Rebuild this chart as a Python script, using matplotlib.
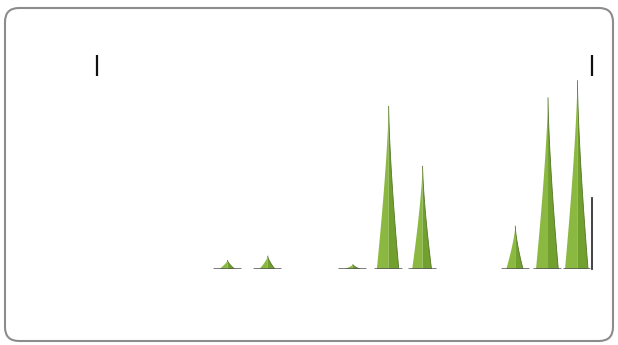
import numpy as np
import matplotlib
matplotlib.use("Agg")
import matplotlib.pyplot as plt
from matplotlib.patches import FancyBboxPatch, Polygon
from matplotlib.transforms import IdentityTransform

# Spike positions and heights
positions = [4.2, 5.5, 8.25, 9.4, 10.5, 13.5, 14.55, 15.5]
values = [4, 6, 2, 76, 48, 20, 80, 88]
edge_x = 16.0
edge_value = 33

W, H, DPI = 618, 345, 100
fig = plt.figure(figsize=(W / DPI, H / DPI), dpi=DPI)
fig.patch.set_facecolor("white")

# Rounded frame around the whole chart (pixel coordinates)
frame = FancyBboxPatch((5, 4), 608, 333,
                       boxstyle="round,pad=0,rounding_size=14",
                       transform=IdentityTransform(),
                       facecolor="none", edgecolor="#8c8c8c", linewidth=1.5,
                       zorder=-1)
fig.patches.append(frame)

left, right = 97 / W, 592 / W
bottom, top = (H - 269) / H, (H - 55) / H
ax = fig.add_axes([left, bottom, right - left, top - bottom])
ax.set_xlim(0, 16)
ax.set_ylim(0, 100)
ax.axis("off")
ax.patch.set_alpha(0)


def spike(ax, x, v):
    half = (0.48 + 0.003 * v) / 2
    t = np.linspace(0, 1, 60)
    prof = half * (1 - t) ** 1.4
    ys = v * t
    tip = x + half * 0.08
    # lighter left half
    lx = np.concatenate([[tip], x - prof[::-1] + (tip - x) * t[::-1], [tip]])
    ly = np.concatenate([[v], ys[::-1], [0]])
    ax.add_patch(Polygon(np.column_stack([lx, ly]), closed=True,
                         facecolor="#8ab840", edgecolor="none", zorder=3))
    # darker right half
    rx = np.concatenate([[tip], x + prof[::-1] + (tip - x) * t[::-1], [tip]])
    ax.add_patch(Polygon(np.column_stack([rx, ly]), closed=True,
                         facecolor="#71a02f", edgecolor="none", zorder=3))
    ax.plot(x + prof + (tip - x) * t, ys, color="#55752a", lw=0.6, zorder=4)
    # baseline dash
    ax.plot([x - 0.45, x + 0.45], [0, 0], color="#555555", lw=1.8,
            solid_capstyle="butt", zorder=5)


for x, v in zip(positions, values):
    spike(ax, x, v)

ax.plot([edge_x, edge_x], [0, edge_value], color="#333333", lw=1.3,
        clip_on=False, zorder=5)

# Range markers at both ends of the plot area
for xm in ax.get_xlim():
    ax.plot([xm, xm], [90, 100], color="#111111", lw=1.6, clip_on=False,
            solid_capstyle="butt")

fig.savefig("out.png", dpi=DPI, facecolor="white")
